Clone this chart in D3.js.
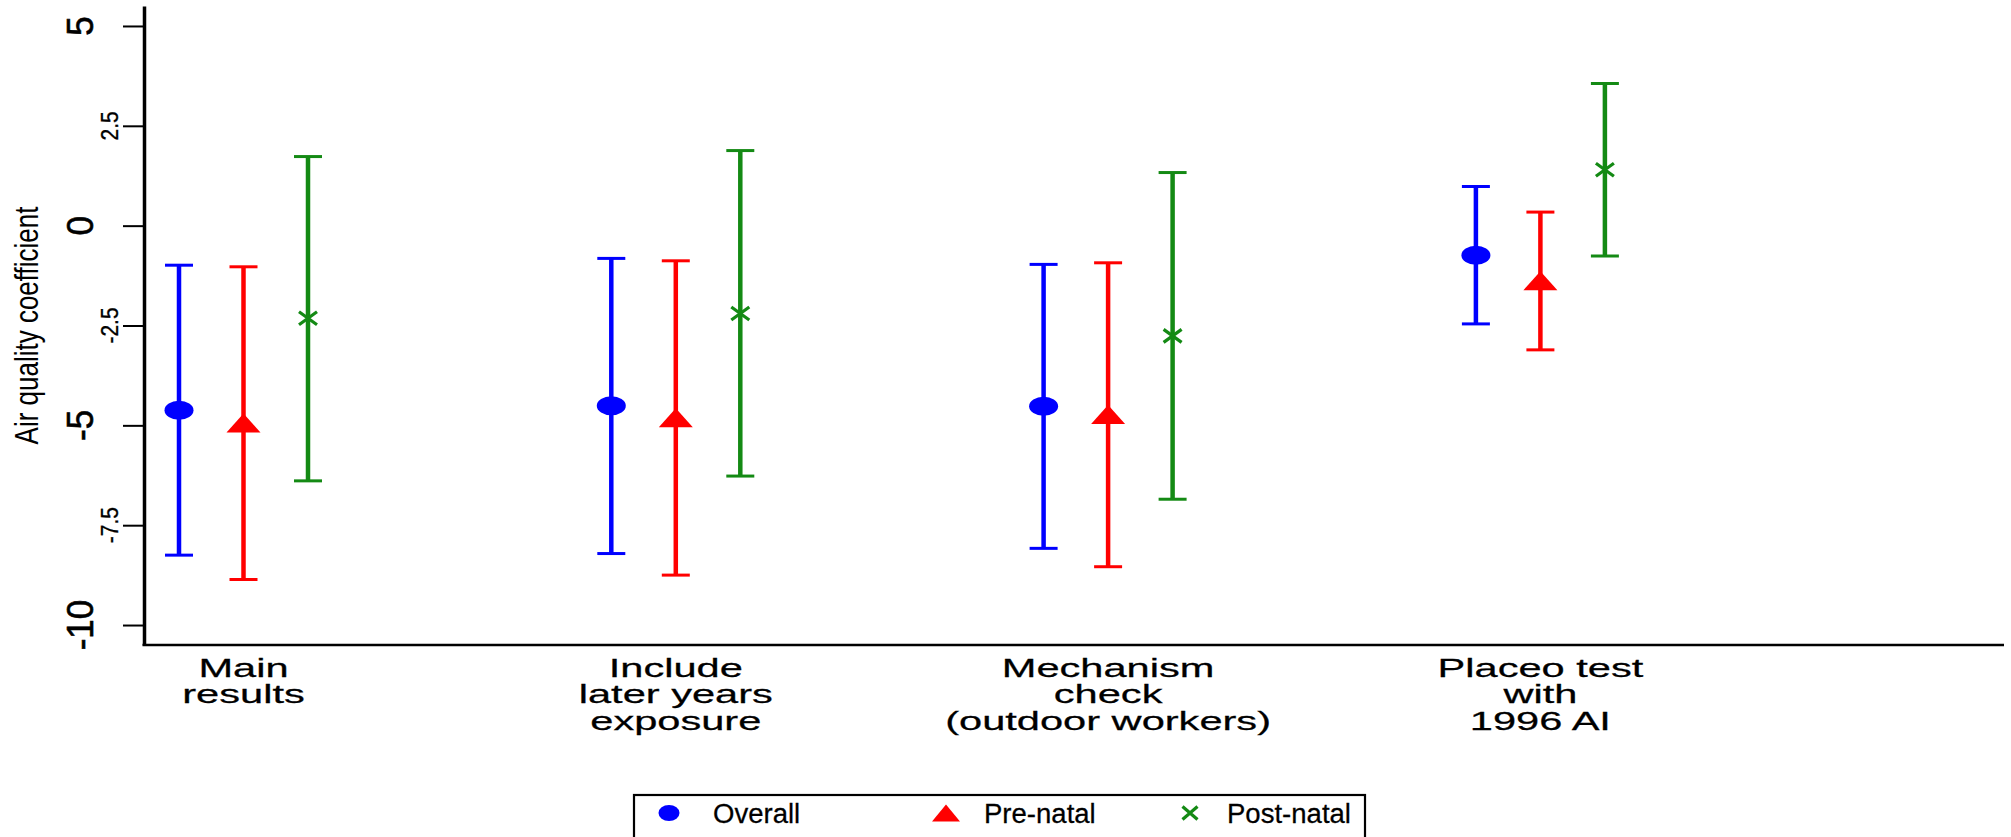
<!DOCTYPE html>
<html>
<head>
<meta charset="utf-8">
<script src="https://cdn.jsdelivr.net/npm/d3@7"></script>
<style>
  html, body { margin: 0; padding: 0; background: #fff; }
  svg { display: block; }
  text { font-family: "Liberation Sans", Arial, sans-serif; fill: #000; }
</style>
</head>
<body>
<script>
// ---------------- data ----------------
const categories = [
  ["Main", "results"],
  ["Include", "later years", "exposure"],
  ["Mechanism", "check", "(outdoor workers)"],
  ["Placeo test", "with", "1996 AI"]
];
const seriesNames = ["Overall", "Pre-natal", "Post-natal"];

const overallCoef = [-4.62, -4.51, -4.52, -0.74];
const overallLo   = [-8.25, -8.21, -8.08, -2.46];
const overallHi   = [-0.99, -0.82, -0.97, 0.98];

const prenatalCoef = [-4.94, -4.81, -4.73, -1.38];
const prenatalLo   = [-8.86, -8.75, -8.54, -3.11];
const prenatalHi   = [-1.03, -0.88, -0.93, 0.34];

const postnatalCoef = [-2.32, -2.20, -2.76, 1.40];
const postnatalLo   = [-6.39, -6.27, -6.85, -0.76];
const postnatalHi   = [1.73, 1.88, 1.33, 3.56];

const yTicks = [5, 2.5, 0, -2.5, -5, -7.5, -10];
const yTickLabels = ["5", "2.5", "0", "-2.5", "-5", "-7.5", "-10"];
const yTitle = "Air quality coefficient";

// ---------------- layout ----------------
const W = 2011, H = 837;
const plotLeft = 144, plotRight = 2004, plotTop = 6, plotBottom = 645;
const groupStep = 432.3;
const colors = { "Overall": "#0000ff", "Pre-natal": "#ff0000", "Post-natal": "#148a14" };

const svg = d3.select("body").append("svg").attr("width", W).attr("height", H);

const catKeys = categories.map(c => c.join(" "));
const xGroup = d3.scaleBand().domain(catKeys)
  .range([plotLeft, plotLeft + groupStep * categories.length]).paddingInner(0).paddingOuter(0);
const xSeries = d3.scalePoint().domain(seriesNames).range([35, 164]);
const y = d3.scaleLinear().domain([-10.5, 5.5]).range([plotBottom, plotTop]);

const seriesData = [
  { name: "Overall", coef: overallCoef, lo: overallLo, hi: overallHi },
  { name: "Pre-natal", coef: prenatalCoef, lo: prenatalLo, hi: prenatalHi },
  { name: "Post-natal", coef: postnatalCoef, lo: postnatalLo, hi: postnatalHi }
];

// ---------------- axes ----------------
const yAxis = d3.axisLeft(y).tickValues(yTicks).tickSize(21).tickSizeOuter(0).tickFormat("");
const gy = svg.append("g").attr("transform", `translate(${plotLeft},0)`).call(yAxis);
gy.select(".domain").attr("stroke", "#000").attr("stroke-width", 3.5);
gy.selectAll(".tick line").attr("stroke", "#000").attr("stroke-width", 2);

// y tick labels (rotated, alternating large/small)
yTicks.forEach((t, i) => {
  const big = Number.isInteger(t);
  const bx = big ? 93 : 118;
  const fs = big ? 35 : 21;
  const sx = big ? 1.03 : 1.13;
  svg.append("text")
    .attr("transform", `translate(${bx},${y(t)}) scale(${sx},1) rotate(-90)`)
    .attr("text-anchor", "middle")
    .attr("font-size", fs)
    .attr("stroke", "#000").attr("stroke-width", big ? 0.6 : 0.3)
    .text(yTickLabels[i]);
});

// y title
svg.append("text")
  .attr("transform", `translate(38,${(plotTop + plotBottom) / 2}) scale(1.27,1) rotate(-90)`)
  .attr("text-anchor", "middle")
  .attr("font-size", 26)
  .text(yTitle);

// x axis line
const xAxis = d3.axisBottom(xGroup).tickSize(0).tickFormat("");
const gx = svg.append("g").attr("transform", `translate(0,${plotBottom})`).call(xAxis);
gx.select(".domain").remove();
svg.append("line")
  .attr("x1", plotLeft - 1.5).attr("x2", plotRight)
  .attr("y1", plotBottom).attr("y2", plotBottom)
  .attr("stroke", "#000").attr("stroke-width", 2.5);

// category labels
categories.forEach((lines, i) => {
  const cx = xGroup(catKeys[i]) + xSeries("Pre-natal");
  lines.forEach((ln, k) => {
    svg.append("text")
      .attr("transform", `translate(${cx},${677 + k * 26.3}) scale(1.6,1)`)
      .attr("text-anchor", "middle")
      .attr("font-size", 26)
      .attr("stroke", "#000").attr("stroke-width", 0.25)
      .text(ln);
  });
});

// ---------------- error bars and markers ----------------
function drawMarker(g, name, big) {
  const c = colors[name];
  if (name === "Overall") {
    g.append("ellipse").attr("rx", big ? 14.5 : 10.5).attr("ry", big ? 9.5 : 8).attr("fill", c);
  } else if (name === "Pre-natal") {
    const hw = big ? 17 : 14, hh = big ? 9.5 : 8.5;
    g.append("path").attr("d", `M0,${-hh}L${hw},${hh}L${-hw},${hh}Z`).attr("fill", c);
  } else {
    const hw = big ? 9 : 7.5, hh = big ? 6.5 : 6.5;
    g.append("path").attr("d", `M${-hw},${-hh}L${hw},${hh}M${-hw},${hh}L${hw},${-hh}`)
      .attr("stroke", c).attr("stroke-width", 3.2).attr("fill", "none");
  }
}

seriesData.forEach(s => {
  const c = colors[s.name];
  const g = svg.append("g");
  s.coef.forEach((v, i) => {
    const cx = xGroup(catKeys[i]) + xSeries(s.name);
    g.append("line").attr("x1", cx).attr("x2", cx)
      .attr("y1", y(s.lo[i])).attr("y2", y(s.hi[i]))
      .attr("stroke", c).attr("stroke-width", 4.5);
    [s.lo[i], s.hi[i]].forEach(e => {
      g.append("line").attr("x1", cx - 14).attr("x2", cx + 14)
        .attr("y1", y(e)).attr("y2", y(e))
        .attr("stroke", c).attr("stroke-width", 3);
    });
    const m = g.append("g").attr("transform", `translate(${cx},${y(v)})`);
    drawMarker(m, s.name, true);
  });
});

// ---------------- legend ----------------
const legX = 634, legY = 795, legW = 731;
svg.append("rect").attr("x", legX).attr("y", legY).attr("width", legW).attr("height", 60)
  .attr("fill", "none").attr("stroke", "#000").attr("stroke-width", 2.2);
const legKeyX = [669, 946, 1190];
const legTextX = [713, 984, 1227];
seriesNames.forEach((n, i) => {
  const m = svg.append("g").attr("transform", `translate(${legKeyX[i]},813)`);
  drawMarker(m, n, false);
  svg.append("text")
    .attr("transform", `translate(${legTextX[i]},823) scale(1.02,1)`)
    .attr("font-size", 27)
    .attr("stroke", "#000").attr("stroke-width", 0.25)
    .text(n);
});
</script>
</body>
</html>
